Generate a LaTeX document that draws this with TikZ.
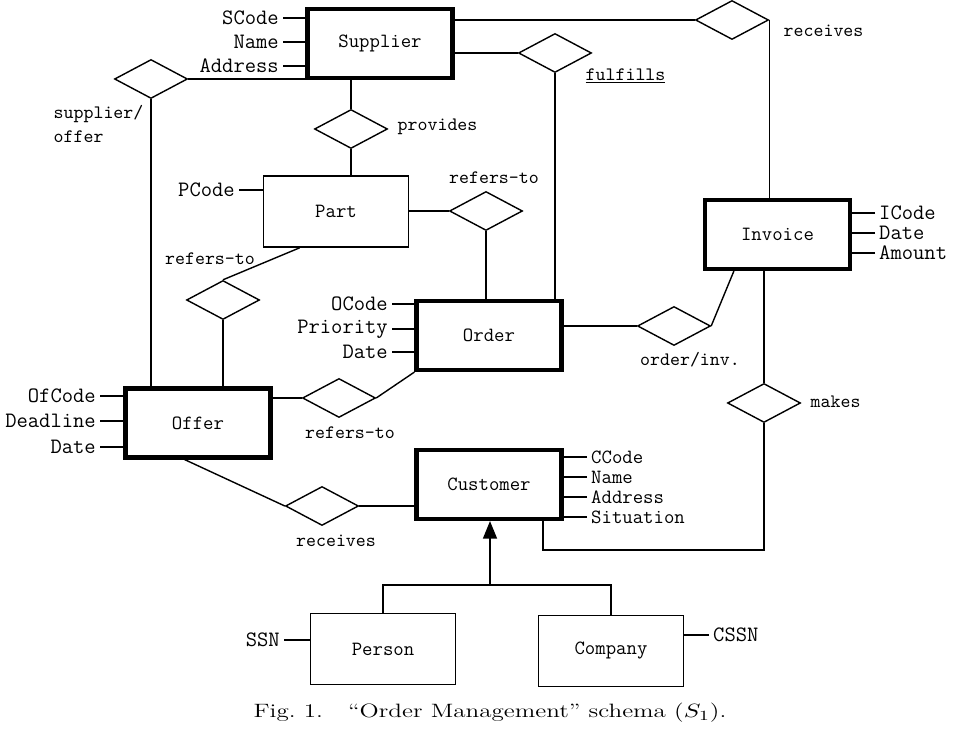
\documentclass[tikz,border=0pt]{standalone}
\usepackage{fontspec}
\usepackage{graphicx}
\usetikzlibrary{arrows.meta,positioning,shapes.geometric}

\begin{document}
\begin{tikzpicture}[x=0.02cm, y=-0.02cm, line width=0.8pt,
  font=\ttfamily\fontsize{11.5}{14}\selectfont, >={Triangle[width=8pt,length=10pt]},
  ent/.style={draw, line width=2.4pt, minimum width=2.9cm, minimum height=1.38cm, inner sep=0pt},
  weak/.style={draw, line width=0.9pt, minimum width=2.9cm, minimum height=1.42cm, inner sep=0pt},
  rel/.style={draw, diamond, aspect=1.9, minimum width=1.46cm, minimum height=0.78cm, inner sep=0pt},
  att/.style={inner xsep=2pt, inner ysep=0pt, font=\ttfamily\fontsize{12.5}{14}\selectfont},
  attc/.style={att, font=\ttfamily\fontsize{11.5}{12}\selectfont},
  attl/.style={line width=1.1pt},
  lab/.style={inner sep=0pt, font=\ttfamily\fontsize{10.8}{14}\selectfont}]
\useasboundingbox (0,0) rectangle (964,732);
% entities
\node[ent] (sup) at (380,43.5) {Supplier};
\node[weak] (part) at (336,211.5) {Part};
\node[ent] (ord) at (489,335.5) {Order};
\node[ent] (off) at (198,423) {Offer};
\node[ent] (inv) at (777.5,234.5) {Invoice};
\node[ent] (cus) at (489,484.5) {Customer};
\node[weak] (per) at (383,649) {Person};
\node[weak] (com) at (611,651) {Company};
% relationships
\node[rel] (sof) at (151,79) {};
\node[rel] (prv) at (351,129) {};
\node[rel] (rpo) at (486,211) {};
\node[rel] (rpf) at (223,300) {};
\node[rel] (rfo) at (339,398) {};
\node[rel] (oin) at (674,326) {};
\node[rel] (rci) at (732,20) {};
\node[rel] (ful) at (555,53) {};
\node[rel] (mk) at (764,403) {};
\node[rel] (rcc) at (322,506) {};
\node[lab, align=left, anchor=west] at (53,124) {supplier/\\offer};
\node[lab, anchor=west] at (397,127) {provides};
\node[lab] at (494,178) {refers-to};
\node[lab] at (210,259) {refers-to};
\node[lab] at (350,433) {refers-to};
\node[lab] at (690,360) {order/inv.};
\node[lab, anchor=west] at (783,31) {receives};
\node[lab, anchor=west] at (585,76) {\underline{fulfills}};
\node[lab, anchor=west] at (810,402) {makes};
\node[lab] at (336,541) {receives};
% connectors
\draw (sof.east) -- (sof.east -| sup.west);
\draw (sof.south) -- (sof.south |- off.north);
\draw (rci.west -| sup.east) -- (rci.west);
\draw (rci.east) -- (rci.east |- inv.north);
\draw (ful.west -| sup.east) -- (ful.west);
\draw (ful.south) -- (ful.south |- ord.north);
\draw (prv.north |- sup.south) -- (prv.north);
\draw (prv.south) -- (prv.south |- part.north);
\draw (part.east |- rpo.west) -- (rpo.west);
\draw (rpo.south) -- (rpo.south |- ord.north);
\draw (rpf.north) -- (part.225);
\draw (rpf.south) -- (rpf.south |- off.north);
\draw (off.east |- rfo.west) -- (rfo.west);
\draw (rfo.east) -- (ord.south west);
\draw (ord.east |- oin.west) -- (oin.west);
\draw (oin.east) -- (inv.220);
\draw (mk.north |- inv.south) -- (mk.north);
\coordinate (bend) at (543,550);
\draw (mk.south) |- (bend) -- (bend |- cus.south);
\draw (off.250) -- (rcc.west);
\draw (rcc.east) -- (rcc.east -| cus.west);
\coordinate (isa) at (490,585);
\draw[->] (isa) -- (isa |- cus.south);
\draw (per.north) -- (per.north |- isa) -- (com.north |- isa) -- (com.north);
% attributes
\foreach \nm/\txt/\yy in {sc/SCode/18, sn/Name/42, sa/Address/66}
  {\node[att, anchor=east] (\nm) at (283,\yy) {\txt};
   \draw[attl] (\nm.east) -- (\nm.east -| sup.west);}
\node[att, anchor=east] (pc) at (239,190) {PCode};
\draw[attl] (pc.east) -- (pc.east -| part.west);
\foreach \nm/\txt/\yy in {fc/OfCode/396, fd/Deadline/421, ft/Date/447}
  {\node[att, anchor=east] (\nm) at (100,\yy) {\txt};
   \draw[attl] (\nm.east) -- (\nm.east -| off.west);}
\foreach \nm/\txt/\yy in {oc/OCode/304, op/Priority/329, ot/Date/352}
  {\node[att, anchor=east] (\nm) at (392,\yy) {\txt};
   \draw[attl] (\nm.east) -- (\nm.east -| ord.west);}
\foreach \nm/\txt/\yy in {ic/ICode/213, it/Date/233, ia/Amount/253}
  {\node[att, anchor=west] (\nm) at (875,\yy) {\txt};
   \draw[attl] (\nm.west) -- (\nm.west -| inv.east);}
\foreach \nm/\txt/\yy in {cc/CCode/457, cn/Name/477, ca/Address/497, cs/Situation/517}
  {\node[attc, anchor=west] (\nm) at (587,\yy) {\txt};
   \draw[attl] (\nm.west) -- (\nm.west -| cus.east);}
\node[att, anchor=east] (ssn) at (284,640) {SSN};
\draw[attl] (ssn.east) -- (ssn.east -| per.west);
\node[att, anchor=west] (cssn) at (709,635) {CSSN};
\draw[attl] (cssn.west) -- (cssn.west -| com.east);
% caption
\node[font=\rmfamily\fontsize{11}{13}\selectfont] (cap) at (490,713)
  {\scalebox{1.3}[1]{Fig.~1.\quad “Order Management” schema ($S_1$).}};
\end{tikzpicture}
\end{document}
